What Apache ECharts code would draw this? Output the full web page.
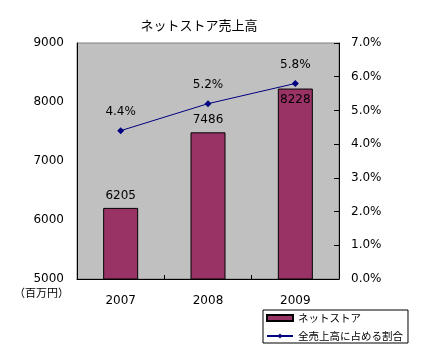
<!DOCTYPE html>
<html><head><meta charset="utf-8">
<script src="https://cdn.jsdelivr.net/npm/echarts@6/dist/echarts.min.js"></script>
<style>html,body{margin:0;padding:0;background:#fff}#c{width:428px;height:355px}</style>
</head><body><div id="c"></div>
<script>
const categories = ['2007', '2008', '2009'];
const salesValues = [6205, 7486, 8228];
const shareValues = [4.4, 5.2, 5.8];
const seriesNames = ['ネットストア', '全売上高に占める割合'];
const titleText = 'ネットストア売上高';
const unitText = '（百万円）';

const FF = 'DejaVu Sans, "Noto Sans CJK JP", sans-serif';
const JF = '"Noto Sans CJK JP", sans-serif';
const chart = echarts.init(document.getElementById('c'), null, {renderer: 'canvas'});
chart.setOption({
  animation: false,
  backgroundColor: '#fff',
  textStyle: {fontFamily: FF, color: '#000'},
  title: {text: titleText, left: 194, top: 14, textAlign: 'center',
    textStyle: {fontSize: 13, fontWeight: 'normal', color: '#000', fontFamily: JF}},
  graphic: [{type: 'text', left: 14, top: 287,
    style: {text: unitText, fontSize: 11, fill: '#000', fontFamily: JF}}],
  legend: {
    orient: 'vertical', left: 263, top: 310,
    backgroundColor: '#fff', borderColor: '#000', borderWidth: 1,
    padding: [2, 5, 1, 3], itemGap: 6, itemWidth: 26, itemHeight: 6,
    textStyle: {fontSize: 10.5, color: '#000', fontFamily: JF, lineHeight: 12},
    data: [{name: seriesNames[0], icon: 'rect'}, {name: seriesNames[1]}]
  },
  grid: {left: 77, right: 89, top: 43, bottom: 76, show: true,
    backgroundColor: '#C0C0C0', borderColor: '#808080', borderWidth: 1},
  xAxis: {type: 'category', data: categories,
    axisLine: {lineStyle: {color: '#000', width: 1}},
    axisTick: {show: true, inside: true, length: 4, lineStyle: {color: '#000'}},
    axisLabel: {fontSize: 12, color: '#000', margin: 16, fontFamily: FF}},
  yAxis: [
    {type: 'value', min: 5000, max: 9000, interval: 1000,
      axisLine: {show: true, lineStyle: {color: '#000'}},
      axisTick: {show: false}, splitLine: {show: false},
      axisLabel: {fontSize: 12, color: '#000', margin: 13, fontFamily: FF,
        formatter: v => String(v)}},
    {type: 'value', min: 0, max: 7, interval: 1, position: 'right',
      axisLine: {show: true, lineStyle: {color: '#000'}},
      axisTick: {show: true, inside: true, length: 5, lineStyle: {color: '#000'}},
      splitLine: {show: false},
      axisLabel: {fontSize: 12, color: '#000', margin: 12, fontFamily: FF,
        formatter: v => v.toFixed(1) + '%'}}
  ],
  series: [
    {name: seriesNames[0], type: 'bar', yAxisIndex: 0, barWidth: 35,
      itemStyle: {color: '#993366', borderColor: '#000', borderWidth: 1},
      label: {show: true, position: 'top', distance: 6, fontSize: 12, color: '#000', fontFamily: FF},
      data: salesValues.map((v, i) => i === 2
        ? {value: v, label: {position: 'insideTop', distance: 5}}
        : v)},
    {name: seriesNames[1], type: 'line', yAxisIndex: 1,
      symbol: 'diamond', symbolSize: 7,
      lineStyle: {color: '#000080', width: 1},
      itemStyle: {color: '#000080'},
      label: {show: true, position: 'top', distance: 9, fontSize: 12, color: '#000', fontFamily: FF,
        formatter: p => p.value.toFixed(1) + '%'},
      data: shareValues}
  ]
});
</script></body></html>
